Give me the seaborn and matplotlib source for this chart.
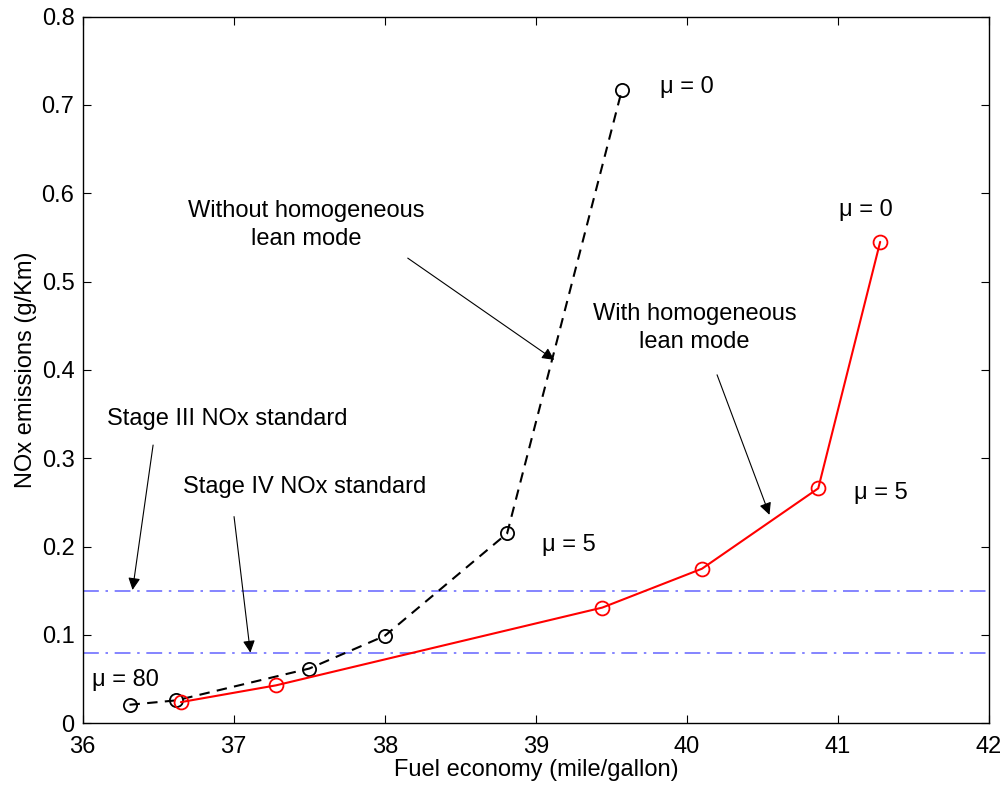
import matplotlib
matplotlib.use('Agg')
import matplotlib.pyplot as plt
import seaborn as sns
import pandas as pd

# data
economy_without = [36.31, 36.62, 37.50, 38.00, 38.81, 39.57]
nox_without = [0.021, 0.026, 0.062, 0.099, 0.215, 0.717]

economy_with = [36.65, 37.28, 39.44, 40.10, 40.87, 41.28]
nox_with = [0.024, 0.043, 0.131, 0.175, 0.266, 0.545]

stage3_limit = 0.15
stage4_limit = 0.08

df_without = pd.DataFrame({'economy': economy_without, 'nox': nox_without})
df_with = pd.DataFrame({'economy': economy_with, 'nox': nox_with})

sns.set_style('ticks')
plt.rcParams['font.family'] = ['Liberation Sans', 'DejaVu Sans']
plt.rcParams['font.size'] = 17
plt.rcParams['text.color'] = 'black'
plt.rcParams['axes.labelcolor'] = 'black'
plt.rcParams['xtick.color'] = 'black'
plt.rcParams['ytick.color'] = 'black'

FS = 17

fig = plt.figure(figsize=(10.05, 7.9), dpi=100)
ax = fig.add_axes([0.0823, 0.0844, 0.9017, 0.8946])

ax.axhline(stage3_limit, color='#7070ff', lw=1.2, dashes=(9.5, 4, 1.5, 4))
ax.axhline(stage4_limit, color='#7070ff', lw=1.2, dashes=(9.5, 4, 1.5, 4))

sns.lineplot(data=df_without, x='economy', y='nox', ax=ax, sort=False,
             color='black', lw=1.5, ls=(0, (5, 3.5)), marker='o', markersize=9.5,
             markerfacecolor='none', markeredgecolor='black', markeredgewidth=1.3)
sns.lineplot(data=df_with, x='economy', y='nox', ax=ax, sort=False,
             color='red', lw=1.5, marker='o', markersize=10,
             markerfacecolor='none', markeredgecolor='red', markeredgewidth=1.3)

ax.set_xlim(36, 42)
ax.set_ylim(0, 0.8)
ax.set_xticks([36, 37, 38, 39, 40, 41, 42])
ax.set_yticks([0, 0.1, 0.2, 0.3, 0.4, 0.5, 0.6, 0.7, 0.8])
ax.set_yticklabels(['0', '0.1', '0.2', '0.3', '0.4', '0.5', '0.6', '0.7', '0.8'])
ax.tick_params(direction='in', top=True, right=True, length=6, width=0.8, labelsize=FS)
ax.tick_params(axis='x', pad=9)
ax.tick_params(axis='y', pad=6)
for s in ax.spines.values():
    s.set_visible(True)
    s.set_color('black')
    s.set_linewidth(1)

ax.set_xlabel('Fuel economy (mile/gallon)', fontsize=FS, labelpad=1)
ax.set_ylabel('NOx emissions (g/Km)', fontsize=FS, labelpad=3)

# labels
ax.text(39.82, 0.72, 'μ = 0', fontsize=FS, va='center', ha='left')
ax.text(41.005, 0.581, 'μ = 0', fontsize=FS, va='center', ha='left')
ax.text(41.11, 0.2605, 'μ = 5', fontsize=FS, va='center', ha='left')
ax.text(39.04, 0.202, 'μ = 5', fontsize=FS, va='center', ha='left')
ax.text(36.06, 0.049, 'μ = 80', fontsize=FS, va='center', ha='left')

arrow = dict(arrowstyle='-|>', color='black', lw=0.8, mutation_scale=18, shrinkA=0, shrinkB=0)
ax.text(36.16, 0.344, 'Stage III NOx standard', fontsize=FS, va='center', ha='left')
ax.annotate('', xy=(36.33, 0.151), xytext=(36.466, 0.315), arrowprops=arrow)
ax.text(36.665, 0.267, 'Stage IV NOx standard', fontsize=FS, va='center', ha='left')
ax.annotate('', xy=(37.11, 0.08), xytext=(37.002, 0.234), arrowprops=arrow)
ax.text(37.48, 0.564, 'Without homogeneous\nlean mode', fontsize=FS, va='center',
        ha='center', multialignment='center', linespacing=1.35)
ax.annotate('', xy=(39.122, 0.4114), xytext=(38.152, 0.5266), arrowprops=arrow)
ax.text(40.05, 0.4477, 'With homogeneous\nlean mode', fontsize=FS, va='center',
        ha='center', multialignment='center', linespacing=1.35)
ax.annotate('', xy=(40.547, 0.236), xytext=(40.20, 0.3945), arrowprops=arrow)

fig.savefig('out.png', dpi=100)
